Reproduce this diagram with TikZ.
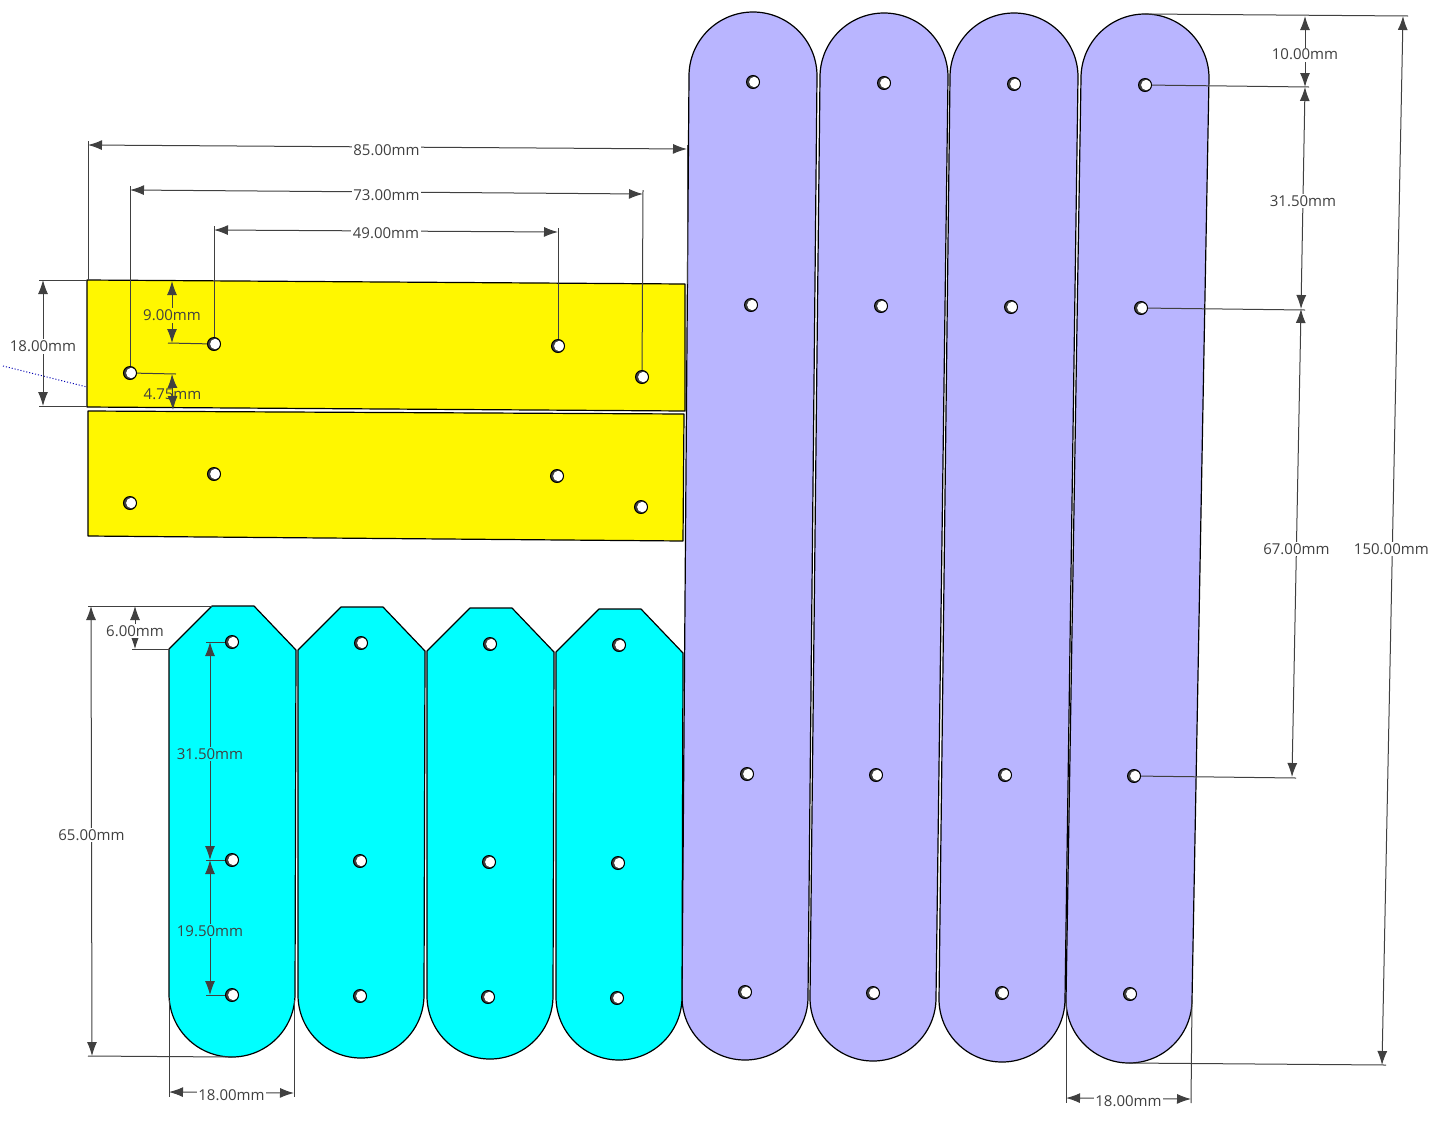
\documentclass[tikz,border=0pt]{standalone}
\usepackage{fontspec}
\setmainfont{Open Sans}
\usetikzlibrary{arrows.meta}
\definecolor{lavande}{HTML}{B9B5FF}
\definecolor{jaune}{HTML}{FFF700}
\definecolor{turquoise}{HTML}{00FFFF}
\definecolor{gris}{HTML}{404040}
\tikzset{
  plaque/.style={draw=black, line width=1.2pt, line join=round},
  trou/.style={circle, draw=black, line width=1pt, fill=gris, minimum size=13pt, inner sep=0pt,
    path picture={\fill[white] ([xshift=1.3pt]path picture bounding box.center) circle (5.2pt);}},
  rappel/.style={draw=gris, line width=1pt},
  cote/.style={draw=gris, line width=1pt, {Latex[length=14pt,width=10pt]}-{Latex[length=14pt,width=10pt]}},
  etiq/.style={text=gris, font=\fontsize{15}{15}\selectfont, fill=white, inner sep=1.5pt, pos=0.5, yshift=-1pt},
  etiqb/.style={etiq, yshift=-2pt},
  etiqj/.style={etiq, fill=jaune},
  etiqc/.style={etiq, fill=turquoise},
  etiqn/.style={etiq, fill=none}
}
\begin{document}
\begin{tikzpicture}[x=1pt, y=-1pt]
\useasboundingbox (0,0) rectangle (1439,1125);

% Les bandes violettes
\foreach \xa/\ya/\xb/\yb in {753/12/745/1060, 884/13/873/1061, 1014/13/1002/1062, 1145/14/1129/1063}
  \draw[plaque, fill=lavande] (\xa-64,\ya+64) arc (180:0:64pt) -- (\xb+63,\yb-63) arc (0:-180:63pt) -- cycle;

% Les plaques jaunes
\draw[plaque, fill=jaune] (87,280) -- (685,284) -- (685,411) -- (87,407) -- cycle;
\draw[plaque, fill=jaune] (88,411) -- (684,414) -- (683,541) -- (88,536) -- cycle;

% Les bandes turquoise, chacune decalee de la precedente
\foreach \dx/\dy in {0/0, 129/1, 258/2, 387/3}
  \draw[plaque, fill=turquoise, shift={(\dx,\dy)}] (169,649) -- (212,606) -- (254,606) -- (296,650) -- (295,994) arc (0:-180:63pt) -- cycle;

% Ligne pointillee
\coordinate (pa) at (3,366);
\coordinate (pb) at (87,387);
\draw[blue!70!black, dotted, line width=1pt] (pa) -- (pb);

% Les trous
\foreach \nom/\pos in {la/{753,82}, lb/{751,305}, lc/{747,774}, ld/{745,992},
  ma/{884,83}, mb/{881,306}, mc/{876,775}, md/{873,993},
  na/{1014,84}, nb/{1011,307}, nc/{1005,775}, nd/{1002,993},
  oa/{1145,85}, ob/{1141,308}, oc/{1134,776}, od/{1130,994},
  ja/{130,373}, jb/{214,344}, jc/{558,346}, jd/{642,377},
  ka/{130,503}, kb/{214,474}, kc/{557,476}, kd/{641,507},
  ta/{232,642}, tb/{232,860}, tc/{232,995},
  ua/{361,643}, ub/{360,861}, uc/{360,996},
  va/{490,644}, vb/{489,862}, vc/{488,997},
  wa/{619,645}, wb/{618,863}, wc/{617,998}}
  \node[trou] (\nom) at (\pos) {};

% 85.00mm
\coordinate (a1) at (88,280);
\coordinate (a2) at (88,141);
\coordinate (a3) at (687,284);
\coordinate (a4) at (687,145);
\coordinate (a5) at (88,145);
\coordinate (a6) at (687,149);
\draw[rappel] (a1) -- (a2);
\draw[rappel] (a3) -- (a4);
\draw[cote] (a5) -- node[etiqb, xshift=-1pt]{85.00mm} (a6);

% 73.00mm
\coordinate (b1) at (130,186);
\coordinate (b2) at (643,190);
\coordinate (b3) at (130,190);
\coordinate (b4) at (643,194);
\draw[rappel] (ja) -- (b1);
\draw[rappel] (jd) -- (b2);
\draw[cote] (b3) -- node[etiqb]{73.00mm} (b4);

% 49.00mm
\coordinate (c1) at (214,226);
\coordinate (c2) at (558,228);
\coordinate (c3) at (214,230);
\coordinate (c4) at (558,232);
\draw[rappel] (jb) -- (c1);
\draw[rappel] (jc) -- (c2);
\draw[cote] (c3) -- node[etiq, yshift=-1pt]{49.00mm} (c4);

% 18.00mm a gauche
\coordinate (d1) at (87,280);
\coordinate (d2) at (39,280);
\coordinate (d3) at (87,406);
\coordinate (d4) at (39,406);
\coordinate (d5) at (43,280);
\coordinate (d6) at (43,406);
\draw[rappel] (d1) -- (d2);
\draw[rappel] (d3) -- (d4);
\draw[cote] (d5) -- node[etiq, pos=0.52]{18.00mm} (d6);

% 9.00mm et 4.75mm
\coordinate (e1) at (168,343);
\coordinate (e2) at (172,281);
\coordinate (e3) at (172,343);
\draw[rappel] (jb) -- (e1);
\draw[cote] (e2) -- node[etiqj, pos=0.54]{9.00mm} (e3);
\coordinate (f1) at (176,374);
\coordinate (f2) at (172,374);
\coordinate (f3) at (173,410);
\draw[rappel] (ja) -- (f1);
\draw[cote] (f2) -- node[etiqn, pos=0.53]{4.75mm} (f3);

% 6.00mm et 65.00mm
\coordinate (g1) at (212,606);
\coordinate (g2) at (88,606);
\coordinate (g3) at (170,649);
\coordinate (g4) at (132,649);
\coordinate (g5) at (135,606);
\coordinate (g6) at (135,649);
\draw[rappel] (g1) -- (g2);
\draw[rappel] (g3) -- (g4);
\draw[cote] (g5) -- node[etiq, pos=0.56]{6.00mm} (g6);
\coordinate (h1) at (232,1057);
\coordinate (h2) at (88,1056);
\coordinate (h3) at (91,606);
\coordinate (h4) at (92,1056);
\draw[rappel] (h1) -- (h2);
\draw[cote] (h3) -- node[etiq, pos=0.507]{65.00mm} (h4);

% 31.50mm et 19.50mm sur la bande turquoise
\coordinate (i1) at (206,642);
\coordinate (i2) at (206,860);
\coordinate (i3) at (206,995);
\coordinate (i4) at (210,642);
\coordinate (i5) at (210,860);
\coordinate (i6) at (210,995);
\draw[rappel] (ta) -- (i1);
\draw[rappel] (tb) -- (i2);
\draw[rappel] (tc) -- (i3);
\draw[cote] (i4) -- node[etiqc, pos=0.51]{31.50mm} (i5);
\draw[cote] (i5) -- node[etiqc, pos=0.52]{19.50mm} (i6);

% 18.00mm en bas
\coordinate (q1) at (169,1000);
\coordinate (q2) at (169,1097);
\coordinate (q3) at (294,1000);
\coordinate (q4) at (294,1097);
\coordinate (q5) at (169,1092);
\coordinate (q6) at (294,1093);
\draw[rappel] (q1) -- (q2);
\draw[rappel] (q3) -- (q4);
\draw[cote] (q5) -- node[etiqb]{18.00mm} (q6);
\coordinate (r1) at (1066,1000);
\coordinate (r2) at (1066,1103);
\coordinate (r3) at (1192,1000);
\coordinate (r4) at (1191,1103);
\coordinate (r5) at (1066,1098);
\coordinate (r6) at (1191,1099);
\draw[rappel] (r1) -- (r2);
\draw[rappel] (r3) -- (r4);
\draw[cote] (r5) -- node[etiqb]{18.00mm} (r6);

% Les cotes a droite
\coordinate (s1) at (1145,14);
\coordinate (s2) at (1408,16);
\coordinate (s3) at (1309,87);
\coordinate (s4) at (1305,310);
\coordinate (s5) at (1296,778);
\coordinate (s6) at (1129,1063);
\coordinate (s7) at (1386,1065);
\draw[rappel] (s1) -- (s2);
\draw[rappel] (oa) -- (s3);
\draw[rappel] (ob) -- (s4);
\draw[rappel] (oc) -- (s5);
\draw[rappel] (s6) -- (s7);
\coordinate (t1) at (1305,16);
\coordinate (t2) at (1305,87);
\coordinate (t3) at (1301,309);
\coordinate (t4) at (1292,777);
\coordinate (t5) at (1403,16);
\coordinate (t6) at (1382,1065);
\draw[cote] (t1) -- node[etiq, pos=0.53]{10.00mm} (t2);
\draw[cote] (t2) -- node[etiq, pos=0.51]{31.50mm} (t3);
\draw[cote] (t3) -- node[etiq, pos=0.51]{67.00mm} (t4);
\draw[cote] (t5) -- node[etiq, pos=0.507, xshift=-1pt]{150.00mm} (t6);
\end{tikzpicture}
\end{document}
